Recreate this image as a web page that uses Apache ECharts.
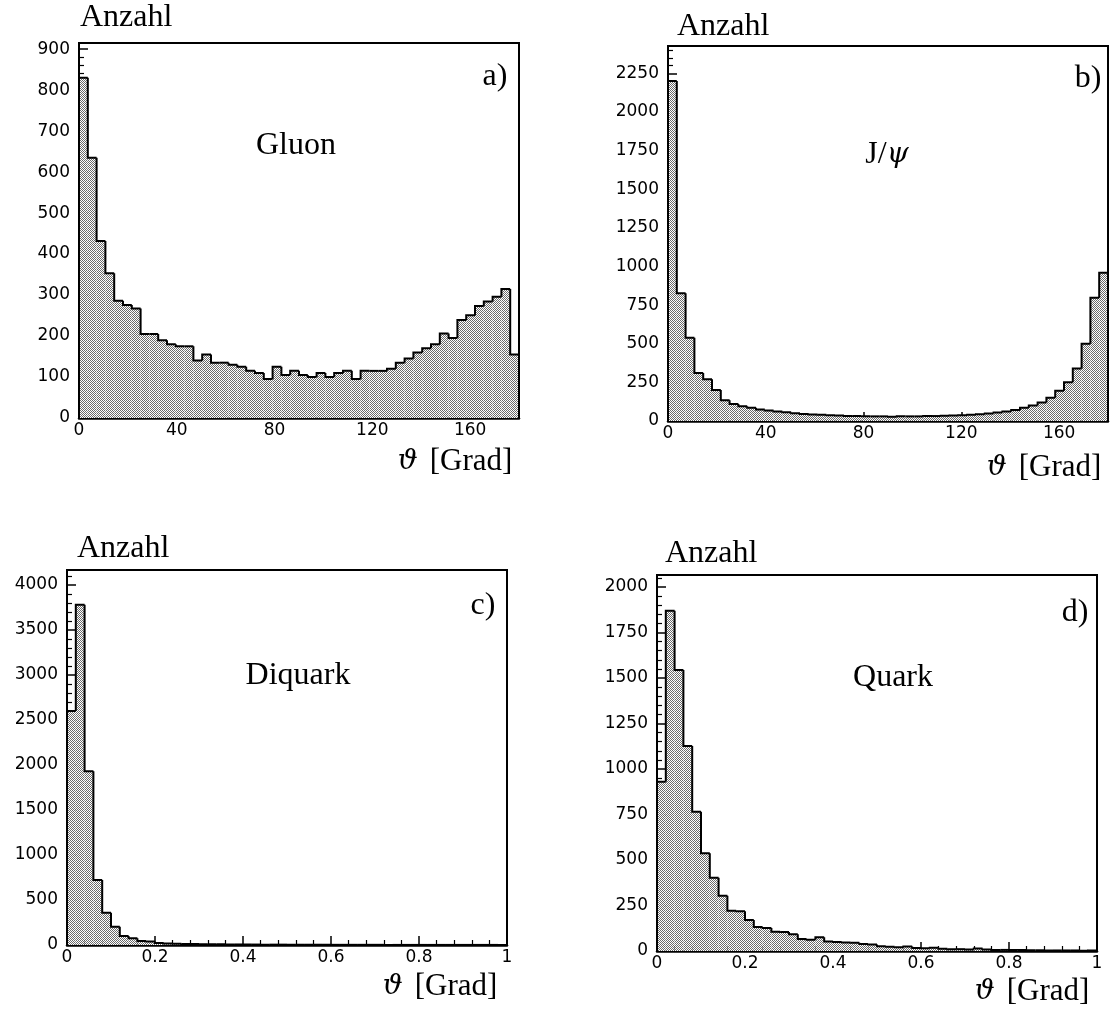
<!DOCTYPE html>
<html>
<head>
<meta charset="utf-8">
<script src="https://cdn.jsdelivr.net/npm/echarts@6/dist/echarts.min.js"></script>
<style>
html,body{margin:0;padding:0;background:#fff;}
#chart{width:1112px;height:1011px;}
</style>
</head>
<body>
<div id="chart"></div>
<script>
// ---- data (counts per bin, 50 equal bins over the x range) ----
const gluonRange = [0, 180];
const gluonCounts = [830, 635, 432, 353, 286, 276, 267, 205, 205, 190,
  180, 175, 175, 140, 155, 135, 135, 130, 125, 115,
  110, 95, 125, 105, 115, 105, 100, 110, 100, 110,
  115, 95, 115, 115, 115, 120, 135, 145, 160, 170,
  180, 206, 195, 239, 251, 273, 284, 296, 315, 155];

const jpsiRange = [0, 180];
const jpsiCounts = [2200, 826, 539, 310, 270, 200, 135, 110, 95, 85,
  75, 68, 62, 56, 50, 46, 42, 40, 38, 35,
  33, 32, 30, 30, 30, 28, 30, 30, 30, 32,
  32, 34, 36, 38, 40, 44, 48, 55, 62, 72,
  85, 100, 120, 150, 195, 250, 340, 500, 798, 960];

const diquarkRange = [0, 1];
const diquarkCounts = [2600, 3780, 1930, 722, 359, 204, 100, 74, 45, 40,
  22, 18, 15, 12, 10, 9, 8, 7, 6, 6,
  5, 5, 4, 4, 4, 3, 3, 3, 3, 2,
  2, 2, 2, 2, 2, 2, 1, 1, 1, 1,
  1, 1, 1, 1, 1, 1, 1, 1, 1, 1];

const quarkRange = [0, 1];
const quarkCounts = [930, 1870, 1544, 1126, 765, 537, 403, 304, 221, 218,
  170, 132, 126, 106, 104, 92, 66, 62, 75, 52,
  50, 47, 45, 38, 36, 26, 24, 20, 25, 16,
  15, 18, 12, 10, 10, 8, 14, 8, 6, 6,
  5, 6, 4, 4, 3, 3, 3, 3, 2, 3];

const angleTicks = 40;
const fracTicks = 0.2;

// ---- stipple pattern ----
const pc = document.createElement('canvas');
pc.width = 2; pc.height = 2;
const pg = pc.getContext('2d');
pg.fillStyle = '#ffffff'; pg.fillRect(0, 0, 2, 2);
pg.fillStyle = '#6a6a6a'; pg.fillRect(0, 0, 1, 1); pg.fillRect(1, 1, 1, 1);
const stipple = {image: pc, repeat: 'repeat'};

function toData(counts, range) {
  const w = (range[1] - range[0]) / counts.length;
  return counts.map((c, i) => [range[0] + i * w, c, range[0] + (i + 1) * w]);
}

function fillRender(params, api) {
  const a = api.coord([api.value(0), 0]);
  const b = api.coord([api.value(2), api.value(1)]);
  return {type: 'rect', shape: {x: a[0], y: b[1], width: b[0] - a[0], height: a[1] - b[1]},
    style: {fill: stipple}};
}
function makeOutline(counts) {
  return function (params, api) {
    const i = params.dataIndex;
    const prev = i > 0 ? counts[i - 1] : 0;
    const pPrev = api.coord([api.value(0), prev]);
    const pL = api.coord([api.value(0), api.value(1)]);
    const pR = api.coord([api.value(2), api.value(1)]);
    const pts = [pPrev, pL, pR];
    if (i === counts.length - 1) pts.push(api.coord([api.value(2), 0]));
    return {type: 'polyline', shape: {points: pts},
      style: {stroke: '#000', lineWidth: 2, fill: null}};
  };
}

const grids = [
  {left: 79, top: 43, width: 440, height: 375},
  {left: 668, top: 46, width: 440, height: 375},
  {left: 67, top: 570, width: 440, height: 375},
  {left: 657, top: 575, width: 440, height: 376}
];
const yMax = [915, 2427, 4167, 2066];
const yInt = [100, 250, 500, 250];
const yMinor = [5, 5, 5, 5];
const xRanges = [gluonRange, jpsiRange, diquarkRange, quarkRange];
const xInt = [angleTicks, angleTicks, fracTicks, fracTicks];
const allCounts = [gluonCounts, jpsiCounts, diquarkCounts, quarkCounts];

const sans = 'DejaVu Sans';
const serif = 'Liberation Serif';
const plain = v => String(Math.round(v * 1000) / 1000);

const option = {
  animation: false,
  backgroundColor: '#fff',
  grid: grids.map(g => Object.assign({show: true, borderColor: '#000', borderWidth: 2, backgroundColor: 'transparent'}, g)),
  xAxis: grids.map((g, k) => ({
    gridIndex: k, type: 'value', min: xRanges[k][0], max: xRanges[k][1], interval: xInt[k],
    axisLine: {show: true, onZero: false, lineStyle: {color: '#000', width: 2.5}},
    axisTick: {show: true, inside: true, length: 9, lineStyle: {color: '#000', width: 1.5}},
    minorTick: {show: true, splitNumber: 5, length: 5, lineStyle: {color: '#000', width: 1.2}},
    splitLine: {show: false},
    axisLabel: {color: '#000', fontFamily: sans, fontSize: 17, margin: 4, formatter: plain,
      showMaxLabel: k >= 2, showMinLabel: true}
  })),
  yAxis: grids.map((g, k) => ({
    gridIndex: k, type: 'value', min: 0, max: yMax[k], interval: yInt[k],
    axisLine: {show: true, onZero: false, lineStyle: {color: '#000', width: 2}},
    axisTick: {show: true, inside: true, length: 9, lineStyle: {color: '#000', width: 1.5}},
    minorTick: {show: true, splitNumber: yMinor[k], length: 5, lineStyle: {color: '#000', width: 1.2}},
    splitLine: {show: false},
    axisLabel: {color: '#000', fontFamily: sans, fontSize: 17, margin: 9, showMaxLabel: false, formatter: plain}
  })),
  series: [],
  graphic: []
};

allCounts.forEach((counts, k) => {
  const data = toData(counts, xRanges[k]);
  option.series.push({type: 'custom', xAxisIndex: k, yAxisIndex: k, renderItem: fillRender,
    data: data, encode: {x: [0, 2], y: 1}, z: 2, silent: true, clip: false});
  option.series.push({type: 'custom', xAxisIndex: k, yAxisIndex: k, renderItem: makeOutline(counts),
    data: data, encode: {x: [0, 2], y: 1}, z: 3, silent: true, clip: false});
});

function txt(x, y, text, align) {
  return {type: 'text', x: x, y: y, z: 10, silent: true,
    style: {text: text, fill: '#000', font: '32px "' + serif + '"', textAlign: align || 'center', textVerticalAlign: 'middle'}};
}
function thetaLabel(x, y) {
  return {type: 'text', x: x, y: y, z: 10, silent: true,
    style: {text: '{t|ϑ}{g|[Grad]}', textAlign: 'center', textVerticalAlign: 'middle',
      rich: {t: {fontFamily: 'DejaVu Serif', fontStyle: 'italic', fontSize: 28, fill: '#000', padding: [0, 12, 0, 0]},
             g: {fontFamily: serif, fontSize: 31, fill: '#000'}}}};
}

const titles = [
  {anz: [80, 18], tag: 'a)', tagPos: [495, 77], name: 'Gluon', namePos: [296, 146], th: [455, 462]},
  {anz: [677, 27], tag: 'b)', tagPos: [1088, 79], name: null, namePos: [887, 155], th: [1044, 468]},
  {anz: [77, 549], tag: 'c)', tagPos: [483, 606], name: 'Diquark', namePos: [298, 676], th: [440, 987]},
  {anz: [665, 554], tag: 'd)', tagPos: [1075, 613], name: 'Quark', namePos: [893, 678], th: [1032, 992]}
];
titles.forEach(t => {
  option.graphic.push(txt(t.anz[0], t.anz[1], 'Anzahl', 'left'));
  option.graphic.push(txt(t.tagPos[0], t.tagPos[1], t.tag, 'center'));
  if (t.name) option.graphic.push(txt(t.namePos[0], t.namePos[1], t.name, 'center'));
  option.graphic.push(thetaLabel(t.th[0], t.th[1]));
});
// J/psi label with italic psi
option.graphic.push({type: 'text', x: titles[1].namePos[0], y: titles[1].namePos[1], z: 10, silent: true,
  style: {text: '{j|J/}{p|ψ}', textAlign: 'center', textVerticalAlign: 'middle',
    rich: {j: {fontFamily: serif, fontSize: 32, fill: '#000'},
           p: {fontFamily: 'DejaVu Serif', fontStyle: 'italic', fontSize: 28, fill: '#000'}}}});

const chart = echarts.init(document.getElementById('chart'), null, {renderer: 'canvas'});
chart.setOption(option);
</script>
</body>
</html>
